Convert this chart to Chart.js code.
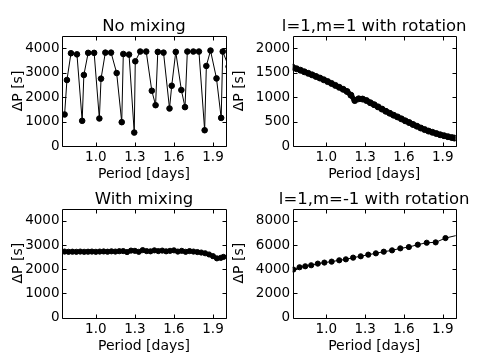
<!DOCTYPE html>
<html>
<head>
<meta charset="utf-8">
<script src="https://cdn.jsdelivr.net/npm/chart.js@4.4.1/dist/chart.umd.min.js"></script>
<style>
    html, body { margin: 0; padding: 0; background: #fff; }
    #wrap { position: relative; width: 480px; height: 362px; overflow: hidden; }
    canvas { position: absolute; }
</style>
</head>
<body>
<div id="wrap">
    <canvas id="noMixChart" width="240" height="181" style="left:0;top:0"></canvas>
    <canvas id="rotM1Chart" width="252" height="181" style="left:228px;top:0"></canvas>
    <canvas id="mixChart" width="240" height="181" style="left:0;top:181px"></canvas>
    <canvas id="rotMm1Chart" width="252" height="181" style="left:228px;top:181px"></canvas>
</div>
<script>
// Tick labels
const periodTicks = [1.0, 1.3, 1.6, 1.9];
const deltaPTicks = [0, 1000, 2000, 3000, 4000];
const rotM1Ticks = [0, 500, 1000, 1500, 2000];
const rotMm1Ticks = [0, 2000, 4000, 6000, 8000];

// No mixing
const noMixPeriod = [0.760, 0.778, 0.809, 0.855, 0.895, 0.908, 0.941, 0.987, 1.027, 1.040,
    1.073, 1.117, 1.160, 1.199, 1.211, 1.255, 1.295, 1.303, 1.341, 1.387,
    1.430, 1.459, 1.476, 1.520, 1.566, 1.583, 1.614, 1.657, 1.685, 1.703,
    1.749, 1.792, 1.836, 1.849, 1.881, 1.927, 1.963, 1.975, 2.020];
const noMixDeltaP = [1290, 2700, 3795, 3750, 1030, 2905, 3810, 3810, 1125, 2755,
    3820, 3820, 2985, 975, 3765, 3740, 550, 3465, 3865, 3865,
    2260, 1670, 3850, 3820, 1535, 2465, 3850, 2290, 1590, 3865,
    3865, 3865, 645, 3275, 3905, 2765, 1150, 3865, 3250];

// l=1,m=1 with rotation
const rotM1Period = [0.74, 0.77, 0.80, 0.83, 0.86, 0.89, 0.92, 0.95, 0.98, 1.01,
    1.04, 1.07, 1.10, 1.13, 1.16, 1.19, 1.22, 1.25, 1.28, 1.31,
    1.34, 1.37, 1.40, 1.43, 1.46, 1.49, 1.52, 1.55, 1.58, 1.61,
    1.64, 1.67, 1.70, 1.73, 1.76, 1.79, 1.82, 1.85, 1.88, 1.91,
    1.94, 1.97, 1.99];
const rotM1DeltaP = [1610, 1580, 1550, 1518, 1487, 1455, 1422, 1390, 1355, 1318,
    1280, 1240, 1200, 1160, 1115, 1040, 930, 965, 960, 930,
    885, 845, 800, 755, 710, 670, 630, 595, 555, 515,
    480, 440, 405, 368, 335, 305, 280, 255, 230, 210,
    190, 172, 162];

// With mixing
const mixPeriod = [0.76, 0.79, 0.82, 0.85, 0.88, 0.91, 0.94, 0.97, 1.00, 1.03,
    1.06, 1.09, 1.12, 1.15, 1.18, 1.21, 1.24, 1.27, 1.30, 1.33,
    1.36, 1.39, 1.42, 1.45, 1.48, 1.51, 1.54, 1.57, 1.60, 1.63,
    1.66, 1.69, 1.72, 1.75, 1.78, 1.81, 1.84, 1.87, 1.90, 1.93,
    1.96, 1.98];
const mixDeltaP = [2730, 2720, 2725, 2720, 2730, 2720, 2725, 2730, 2720, 2730,
    2735, 2725, 2740, 2730, 2745, 2750, 2710, 2770, 2760, 2720,
    2790, 2750, 2740, 2780, 2750, 2770, 2740, 2760, 2780, 2730,
    2760, 2720, 2750, 2730, 2710, 2690, 2660, 2610, 2540, 2450,
    2470, 2510];

// l=1,m=-1 with rotation
const rotMm1Period = [0.745, 0.793, 0.837, 0.883, 0.934, 0.985, 1.041, 1.100, 1.151, 1.207,
    1.266, 1.324, 1.383, 1.444, 1.508, 1.572, 1.638, 1.707, 1.776, 1.845,
    1.921, 2.050];
const rotMm1DeltaP = [3975, 4165, 4245, 4330, 4465, 4550, 4630, 4740, 4820, 4960,
    5070, 5205, 5315, 5450, 5560, 5725, 5835, 6030, 6190, 6220,
    6575, 6900];

const FONT = 'DejaVu Sans';

/**
 * Draws the box round the plot area, inward tick marks on all four sides
 * and the panel title centred over the plot area (not squeezed to fit it)
 */
const framePlugin = {
    id: 'frame',
    afterDatasetsDraw: (chart, args, opts) => {
        const { ctx, chartArea: a, scales: { x, y } } = chart;
        const snap = v => Math.round(v) + 0.5;
        const L = snap(a.left), R = snap(a.right), T = snap(a.top), B = snap(a.bottom);
        const len = 4;
        ctx.save();
        ctx.strokeStyle = '#000';
        ctx.lineWidth = 1;
        ctx.beginPath();
        ctx.rect(L, T, R - L, B - T);
        x.ticks.forEach(t => {
            const px = snap(x.getPixelForValue(t.value));
            ctx.moveTo(px, B); ctx.lineTo(px, B - len);
            ctx.moveTo(px, T); ctx.lineTo(px, T + len);
        });
        y.ticks.forEach(t => {
            const py = snap(y.getPixelForValue(t.value));
            ctx.moveTo(L, py); ctx.lineTo(L + len, py);
            ctx.moveTo(R, py); ctx.lineTo(R - len, py);
        });
        ctx.stroke();

        // panel title
        ctx.fillStyle = '#000';
        ctx.font = `16.5px "${FONT}"`;
        ctx.textAlign = 'center';
        ctx.textBaseline = 'middle';
        ctx.fillText(opts.text, (a.left + a.right) / 2, a.top - opts.gap);
        ctx.restore();
    }
};

/**
 * Build one panel
 */
const makePanel = (id, title, periods, values, yMax, yTicks, style, pos) => {
    const isTop = pos.row === 'top';
    const isLeft = pos.col === 'left';
    const ctx = document.getElementById(id).getContext('2d');
    return new Chart(ctx, {
        type: 'line',
        data: {
            datasets: [{
                data: periods.map((p, i) => ({ x: p, y: values[i] })),
                borderColor: '#000',
                backgroundColor: '#000',
                pointBackgroundColor: '#000',
                pointBorderColor: '#000',
                borderWidth: style.lineWidth,
                pointRadius: style.radius,
                pointBorderWidth: 1,
                tension: 0
            }]
        },
        options: {
            responsive: false,
            animation: false,
            events: [],
            layout: {
                padding: { left: 0, right: isLeft ? 14 : 24.3, top: isTop ? 36 : 27.7, bottom: 0 }
            },
            scales: {
                x: {
                    type: 'linear',
                    min: 0.74,
                    max: 2.0,
                    afterBuildTicks: s => { s.ticks = periodTicks.map(v => ({ value: v })); },
                    afterFit: s => { s.height = isTop ? 35 : 44.3; },
                    grid: { display: false, drawTicks: false },
                    border: { display: false },
                    ticks: {
                        color: '#000',
                        font: { family: FONT, size: 13.5 },
                        padding: 3.5,
                        maxRotation: 0,
                        callback: v => v.toFixed(1)
                    },
                    title: {
                        display: true,
                        text: 'Period [days]',
                        color: '#000',
                        font: { family: FONT, size: 14 },
                        padding: { top: 0, bottom: isTop ? -2 : 7.5 }
                    }
                },
                y: {
                    type: 'linear',
                    min: 0,
                    max: yMax,
                    afterBuildTicks: s => { s.ticks = yTicks.map(v => ({ value: v })); },
                    afterFit: s => { s.width = isLeft ? 62 : 64.7; },
                    grid: { display: false, drawTicks: false },
                    border: { display: false },
                    ticks: {
                        color: '#000',
                        font: { family: FONT, size: 13.5 },
                        padding: 2.5,
                        callback: v => String(v)
                    },
                    title: {
                        display: true,
                        text: 'ΔP [s]',
                        color: '#000',
                        font: { family: FONT, size: 14 },
                        padding: { top: isLeft ? 9.9 : 3.0, bottom: 0 }
                    }
                }
            },
            plugins: {
                legend: { display: false },
                tooltip: { enabled: false },
                title: { display: false },
                frame: { text: title, gap: isTop ? 8.8 : 9.2 }
            }
        },
        plugins: [framePlugin]
    });
};

makePanel('noMixChart', 'No mixing', noMixPeriod, noMixDeltaP, 4500, deltaPTicks,
    { lineWidth: 1, radius: 2.8 }, { row: 'top', col: 'left' });
makePanel('rotM1Chart', 'l=1,m=1 with rotation', rotM1Period, rotM1DeltaP, 2250, rotM1Ticks,
    { lineWidth: 5, radius: 3 }, { row: 'top', col: 'right' });
makePanel('mixChart', 'With mixing', mixPeriod, mixDeltaP, 4500, deltaPTicks,
    { lineWidth: 3, radius: 2.6 }, { row: 'bottom', col: 'left' });
makePanel('rotMm1Chart', 'l=1,m=-1 with rotation', rotMm1Period, rotMm1DeltaP, 9000, rotMm1Ticks,
    { lineWidth: 1, radius: 2.6 }, { row: 'bottom', col: 'right' });
</script>
</body>
</html>
